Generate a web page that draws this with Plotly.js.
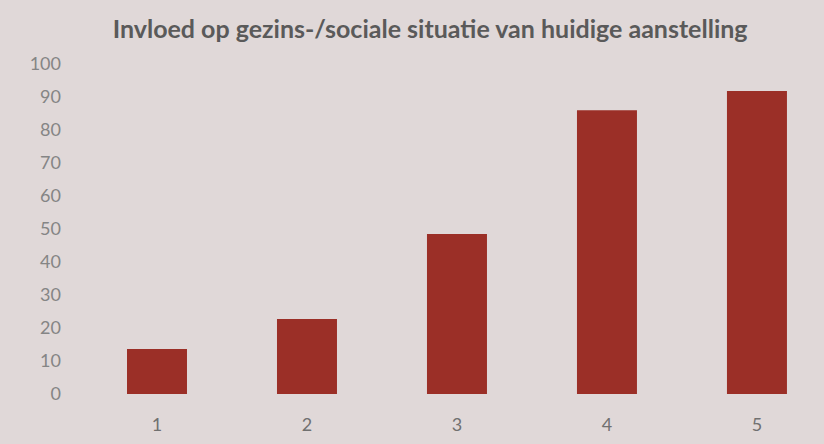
<!DOCTYPE html>
<html><head><meta charset="utf-8">
<script src="https://cdn.plot.ly/plotly-3.0.1.min.js"></script>
<style>html,body{margin:0;padding:0;background:#e0d8d8;}</style>
</head><body><div id="chart" style="width:824px;height:444px;"></div>
<script>
const categories = [1, 2, 3, 4, 5];
const tickLabels = ["1", "2", "3", "4", "5"];
const values = [13.6, 22.7, 48.5, 86, 91.8];
const yTicks = [0, 10, 20, 30, 40, 50, 60, 70, 80, 90, 100];

const trace = {
  type: 'bar', x: categories, y: values, width: 0.4,
  marker: {color: '#9b2f27'}, hoverinfo: 'none'
};
const layout = {
  width: 824, height: 444,
  paper_bgcolor: '#e0d8d8', plot_bgcolor: '#e0d8d8',
  margin: {l: 82, r: 0, t: 64, b: 50},
  title: {text: '<b>Invloed op gezins-/sociale situatie van huidige aanstelling</b>',
    font: {family: 'Lato, "Open Sans", sans-serif', size: 25, color: '#5a5a5a'},
    x: 0.522, xanchor: 'center', y: 0.935, yanchor: 'middle'},
  xaxis: {range: [0.5, 5.447], tickvals: categories, ticktext: tickLabels,
    showgrid: false, zeroline: false, showline: false, ticks: '',
    ticklabelstandoff: 18,
    tickfont: {family: 'Lato, sans-serif', size: 18, color: '#707070'}},
  yaxis: {range: [0, 100], tickvals: yTicks, showgrid: false, zeroline: false,
    showline: false, ticks: '', ticklabelstandoff: 20,
    tickfont: {family: 'Lato, sans-serif', size: 18, color: '#858585'}},
  showlegend: false
};
Plotly.newPlot('chart', [trace], layout, {displayModeBar: false, staticPlot: true});
</script></body></html>
